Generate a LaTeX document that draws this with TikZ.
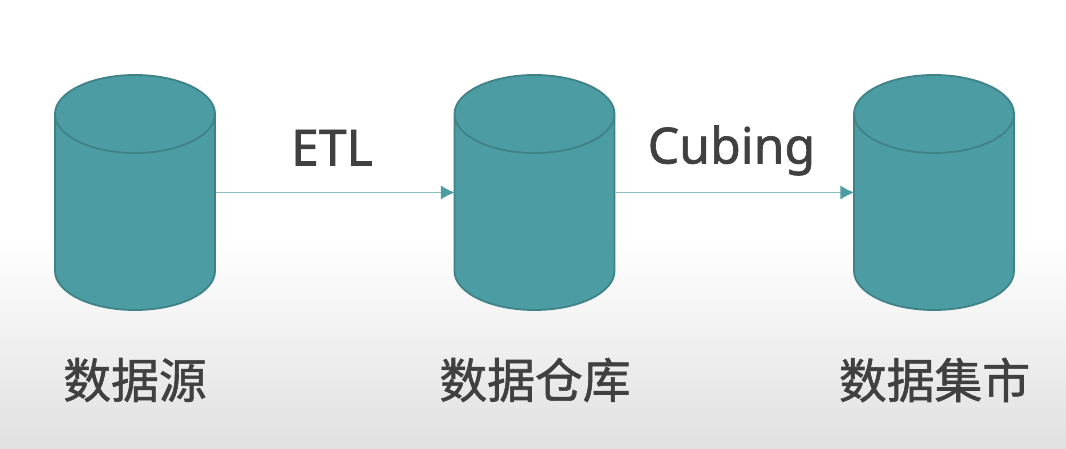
\documentclass[tikz,border=0pt]{standalone}
\usepackage{fontspec}
\setmainfont[FakeBold=1.3]{Noto Sans}
\newfontfamily\cjk[FakeBold=1.2]{Noto Sans CJK SC}
\usetikzlibrary{arrows.meta,shapes.geometric}
\definecolor{tealfill}{HTML}{4B9DA3}
\definecolor{tealdraw}{HTML}{3F8288}
\definecolor{tealline}{HTML}{8CBFC0}
\definecolor{labelgray}{HTML}{404040}
\tikzstyle{store}=[cylinder,shape border rotate=90,aspect=0.975,draw=tealdraw,fill=tealfill,line width=1.3pt,minimum width=4cm,minimum height=5.875cm,inner sep=1cm,anchor=shape center]
\tikzstyle{edge} = [draw=tealline,line width=1.2pt,-{Latex[color=tealfill,length=10pt,width=10pt]},shorten >=-1pt]
\tikzstyle{weight} = [font=\fontsize{35.5}{40}\selectfont,text=labelgray,anchor=base,inner sep=0pt]
\tikzstyle{caption} = [font=\cjk\fontsize{34}{38}\selectfont,text=labelgray,inner sep=0pt]

\begin{document}
\begin{tikzpicture}
    % background, white fading to gray
    \useasboundingbox (0,0) rectangle (26.65,11.2);
    \shade[top color=white,bottom color=black!12] (0,0) rectangle (26.65,5.2);

    % First we draw the stores
    \foreach \pos/\name in {{(3.375,6.3875)/source},{(13.3625,6.3875)/warehouse},{(23.35,6.3875)/mart}}
        \node[store] (\name) at \pos {};

    % Connect stores and draw labels
    \foreach \source/\dest/\weight/\lift in {source/warehouse/ETL/0.675cm, warehouse/mart/Cubing/0.725cm}
        \path[edge] (\source.shape center -| \source.east) -- node[weight,yshift=\lift,xshift=-2pt] {\weight} (\dest.shape center -| \dest.west);

    % names below the stores
    \foreach \pos/\name/\text in {{(3.375,1.7)/sourcename/数据源},{(13.375,1.7)/warehousename/数据仓库},{(23.3625,1.7)/martname/数据集市}}
        \node[caption] (\name) at \pos {\text};
\end{tikzpicture}
\end{document}
